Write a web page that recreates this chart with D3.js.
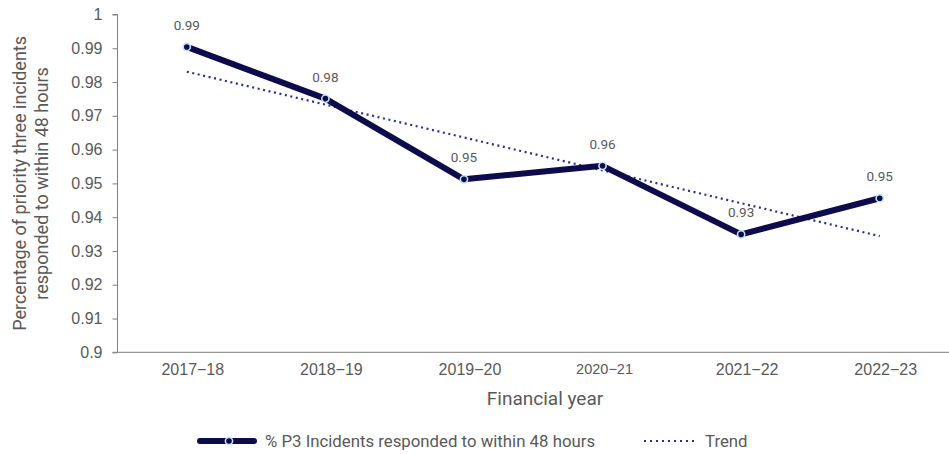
<!DOCTYPE html>
<html>
<head>
<meta charset="utf-8">
<script src="https://cdn.jsdelivr.net/npm/d3@7/dist/d3.min.js"></script>
<style>
  html, body { margin: 0; padding: 0; background: #fff; }
  svg { display: block; font-family: Roboto, "Noto Sans", sans-serif; }
</style>
</head>
<body>
<svg id="chart" width="949" height="454"></svg>
<script>
// Financial years and share of P3 incidents responded to within 48 hours
const years = ["2017−18", "2018−19", "2019−20", "2020−21", "2021−22", "2022−23"];
const responseRate = [0.9904, 0.9751, 0.9512, 0.9552, 0.9349, 0.9456];
const yTicks = [0.9, 0.91, 0.92, 0.93, 0.94, 0.95, 0.96, 0.97, 0.98, 0.99, 1];
const seriesName = "% P3 Incidents responded to within 48 hours";
const trendName = "Trend";

const navy = "#0c0b4c";
const trendBlue = "#2a2f8f";
const halo = "#c4e2f6";
const grey = "#595959";

const svg = d3.select("#chart");
const margin = { left: 117.5, right: 0, top: 14.5, bottom: 102 };
const W = 949;

const x = d3.scaleBand().domain(years).range([margin.left, W]).paddingInner(0).paddingOuter(0);
const y = d3.scaleLinear().domain([0.9, 1]).range([352.3, margin.top]);
const cx = d => x(d) + x.bandwidth() / 2;

// Y axis
const yAxis = svg.append("g")
  .attr("transform", `translate(${margin.left},0)`)
  .call(d3.axisLeft(y).tickValues(yTicks).tickSize(5).tickPadding(10)
    .tickFormat(d => d3.format("")(+d.toFixed(2))));
yAxis.select(".domain").attr("stroke", "#7f7f7f").attr("d", `M-5,${y(1)}H0V${y(0.9)}`);
yAxis.selectAll(".tick line").attr("stroke", "#7f7f7f");
yAxis.selectAll(".tick text").attr("fill", grey).style("font-size", "16px");

// X axis
const xAxis = svg.append("g")
  .attr("transform", `translate(0,${y(0.9)})`)
  .call(d3.axisBottom(x).tickSize(0).tickPadding(11));
xAxis.select(".domain").attr("stroke", "#7f7f7f").attr("d", `M${margin.left - 5},0H${W}`);
xAxis.selectAll(".tick text").attr("fill", grey)
  .attr("dx", d => d === "2020−21" ? 2 : 6)
  .style("font-size", d => d === "2020−21" ? "14.5px" : "16px");

// Axis titles
const yTitle = svg.append("text")
  .attr("transform", `translate(26,${(y(1) + y(0.9)) / 2}) rotate(-90)`)
  .attr("text-anchor", "middle").attr("fill", grey).style("font-size", "18px");
yTitle.append("tspan").attr("x", 0).attr("dy", 0).text("Percentage of priority three incidents");
yTitle.append("tspan").attr("x", 0).attr("dy", 22).text("responded to within 48 hours");

svg.append("text").attr("x", 545).attr("y", 405).attr("text-anchor", "middle")
  .attr("fill", grey).style("font-size", "19px").text("Financial year");

// Linear trend (least squares over the year index)
const n = responseRate.length;
const xs = d3.range(n);
const mx = d3.mean(xs), my = d3.mean(responseRate);
const slope = d3.sum(xs, i => (i - mx) * (responseRate[i] - my)) / d3.sum(xs, i => (i - mx) ** 2);
const intercept = my - slope * mx;
const trend = xs.map(i => intercept + slope * i);

svg.append("path")
  .datum(trend)
  .attr("fill", "none").attr("stroke", trendBlue).attr("stroke-width", 2.2)
  .attr("stroke-dasharray", "2 3.6")
  .attr("d", d3.line().x((d, i) => cx(years[i])).y(d => y(d)));

// Main series
svg.append("path")
  .datum(responseRate)
  .attr("fill", "none").attr("stroke", navy).attr("stroke-width", 6)
  .attr("stroke-linejoin", "round").attr("stroke-linecap", "round")
  .attr("d", d3.line().x((d, i) => cx(years[i])).y(d => y(d)));

svg.selectAll("circle.pt").data(responseRate).join("circle")
  .attr("class", "pt")
  .attr("cx", (d, i) => cx(years[i])).attr("cy", d => y(d)).attr("r", 3.6)
  .attr("fill", navy).attr("stroke", halo).attr("stroke-width", 1.6);

svg.selectAll("text.lbl").data(responseRate).join("text")
  .attr("class", "lbl")
  .attr("x", (d, i) => cx(years[i])).attr("y", d => y(d) - 17)
  .attr("text-anchor", "middle").attr("fill", grey).style("font-size", "13.5px")
  .text(d => d.toFixed(2));

// Legend
const lg = svg.append("g");
lg.append("line").attr("x1", 200).attr("x2", 254).attr("y1", 441).attr("y2", 441)
  .attr("stroke", navy).attr("stroke-width", 6).attr("stroke-linecap", "round");
lg.append("circle").attr("cx", 229).attr("cy", 441).attr("r", 3.6)
  .attr("fill", navy).attr("stroke", halo).attr("stroke-width", 1.6);
lg.append("text").attr("x", 265).attr("y", 446.5).attr("fill", grey).style("font-size", "16.8px").text(seriesName);
lg.append("line").attr("x1", 644).attr("x2", 694).attr("y1", 441).attr("y2", 441)
  .attr("stroke", trendBlue).attr("stroke-width", 2).attr("stroke-dasharray", "2 4");
lg.append("text").attr("x", 705).attr("y", 446.5).attr("fill", grey).style("font-size", "16.8px").text(trendName);
</script>
</body>
</html>
